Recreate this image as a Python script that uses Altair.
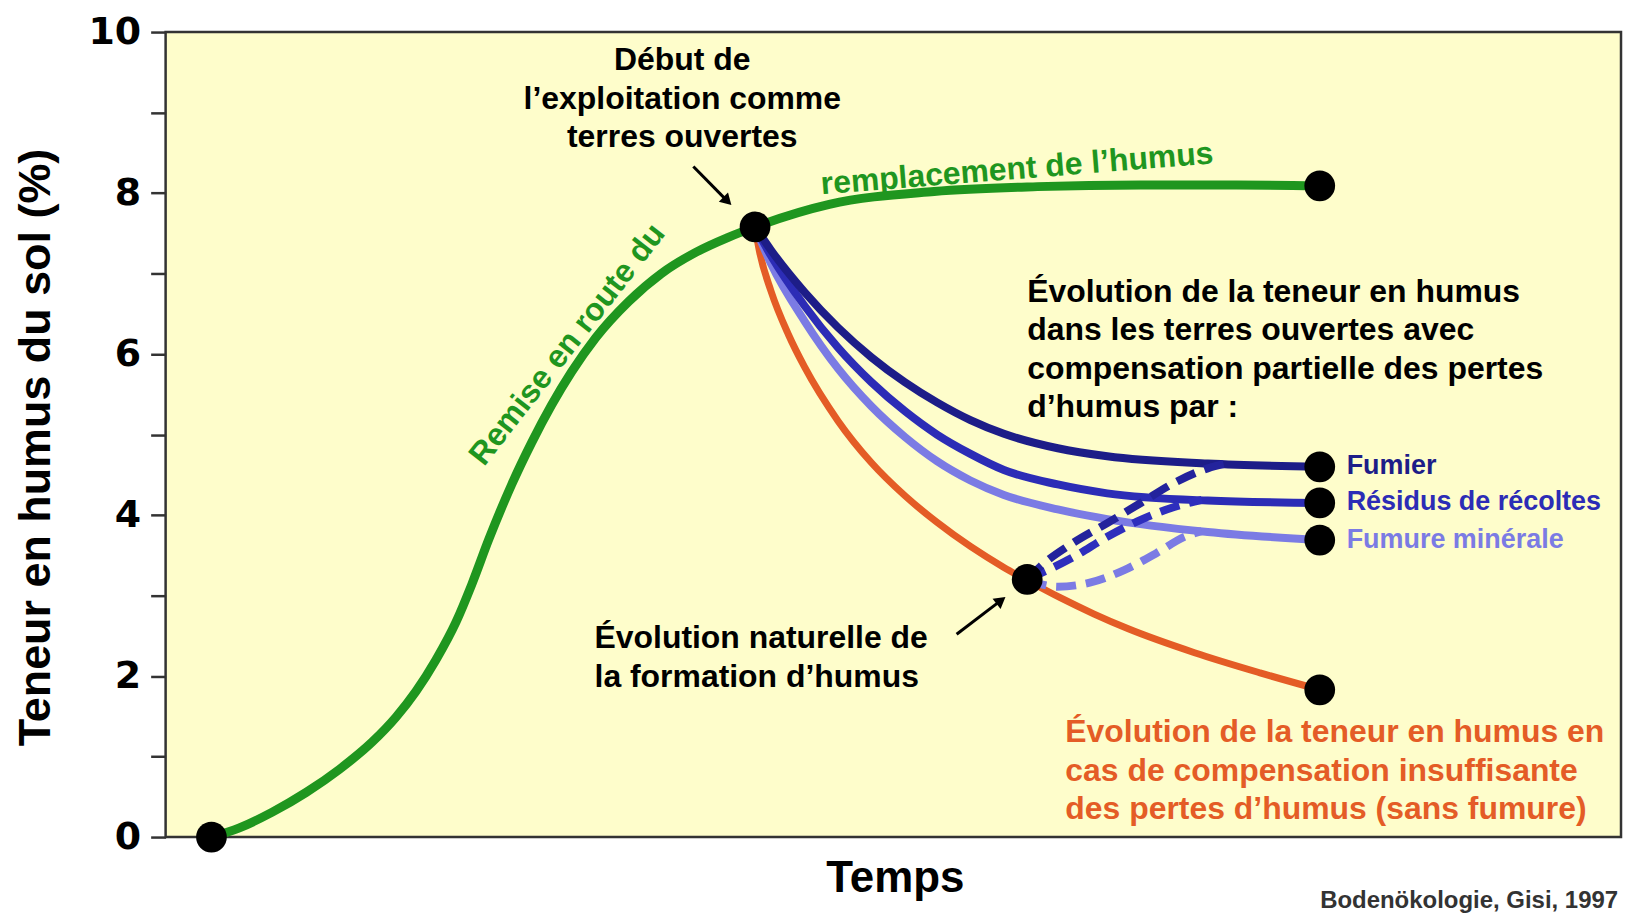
import altair as alt
import pandas as pd

# ---------------- data (time in arbitrary units 0-100, humus content in %) ----------------
green_t = [3.15, 5.07, 7.33, 9.66, 11.93, 14.19, 15.83, 17.20, 18.57, 19.95, 21.04, 22.21, 23.78, 25.15,
           26.53, 27.90, 29.54, 31.80, 34.06, 36.39, 38.66, 40.51, 45.6, 52.8, 59.9, 67.0, 73.6, 79.3]
green_v = [0.00, 0.115, 0.31, 0.555, 0.84, 1.18, 1.49, 1.81, 2.20, 2.67, 3.14, 3.70, 4.38, 4.90,
           5.37, 5.78, 6.20, 6.65, 7.00, 7.26, 7.45, 7.58, 7.86, 8.02, 8.08, 8.10, 8.10, 8.09]

orange_t = [40.5, 40.8, 41.6, 42.8, 43.9, 46.2, 48.5, 50.8, 53.0, 55.3, 57.6, 59.2, 61.5, 63.8, 66.1,
            70.7, 75.2, 79.3]
orange_v = [7.58, 7.28, 6.78, 6.24, 5.84, 5.17, 4.65, 4.24, 3.91, 3.61, 3.35, 3.19, 2.97, 2.77, 2.59,
            2.29, 2.04, 1.83]

fumier_t = [40.5, 41.6, 43.9, 46.2, 48.5, 50.8, 53.0, 55.3, 57.6, 61.3, 64.7, 71.6, 79.3]
fumier_v = [7.58, 7.29, 6.77, 6.33, 5.96, 5.65, 5.40, 5.18, 5.01, 4.83, 4.73, 4.64, 4.60]

residus_t = [40.5, 41.6, 43.9, 46.2, 48.5, 50.8, 53.0, 55.3, 57.6, 61.3, 64.7, 71.6, 79.3]
residus_v = [7.58, 7.22, 6.60, 6.08, 5.65, 5.29, 5.00, 4.76, 4.56, 4.38, 4.27, 4.18, 4.15]

minerale_t = [40.5, 41.6, 43.9, 46.2, 48.5, 50.8, 53.0, 55.3, 57.6, 61.3, 64.7, 71.6, 79.3]
minerale_v = [7.58, 7.12, 6.41, 5.82, 5.35, 4.97, 4.67, 4.43, 4.25, 4.07, 3.95, 3.79, 3.69]

dash_fumier_t = [59.2, 60.1, 62.4, 64.7, 67.0, 69.3, 71.6, 72.9]
dash_fumier_v = [3.20, 3.36, 3.66, 3.90, 4.15, 4.40, 4.58, 4.64]

dash_residus_t = [59.2, 62.4, 64.7, 67.0, 69.3, 71.2]
dash_residus_v = [3.20, 3.48, 3.73, 3.94, 4.10, 4.19]

dash_minerale_t = [59.2, 61.3, 63.5, 65.9, 68.1, 70.0, 71.2]
dash_minerale_v = [3.20, 3.11, 3.16, 3.32, 3.53, 3.73, 3.80]

dots_t = [3.15, 40.5, 79.3, 79.3, 79.3, 79.3, 79.3, 59.2]
dots_v = [0.00, 7.58, 8.09, 4.60, 4.15, 3.69, 1.83, 3.20]

y_ticks = list(range(0, 11))

# ---------------- styling ----------------
SANS = "Liberation Sans, Arial, sans-serif"
GREEN = "#1f961f"
ORANGE = "#e45c26"
C_FUM = "#1d1d88"
C_RES = "#2c2cb6"
C_MIN = "#7b7be4"

XS = alt.Scale(domain=[0, 100])
YS = alt.Scale(domain=[0, 10])

x_axis = alt.Axis(title="Temps", titleFont=SANS, titleFontSize=44, titleFontWeight="bold",
                  titleColor="black", titleX=731, titleY=42, titleAlign="center",
                  titleBaseline="middle", domain=False, ticks=False, labels=False, grid=False)
y_axis = alt.Axis(title="Teneur en humus du sol (%)", values=y_ticks,
                  labelExpr="datum.value % 2 == 0 ? format(datum.value, 'd') : ''",
                  labelOverlap=False, tickSize=15, tickWidth=2.5, tickColor="#333333",
                  domain=False, grid=False, labelFont="DejaVu Sans", labelFontSize=38,
                  labelFontWeight="bold", labelColor="black", labelPadding=10,
                  titleFont=SANS, titleFontSize=45, titleFontWeight="bold", titleColor="black",
                  titleX=-130, titleY=416, titleAngle=270, titleAlign="center", titleBaseline="middle")


def line_layer(ts, vs, color, width, dash=None, first=False):
    df = pd.DataFrame({"t": ts, "v": vs})
    kw = dict(color=color, strokeWidth=width, interpolate="monotone", strokeCap="round")
    if dash:
        kw["strokeDash"] = dash
        kw["strokeCap"] = "butt"
    if first:
        enc = dict(x=alt.X("t:Q", scale=XS, axis=x_axis), y=alt.Y("v:Q", scale=YS, axis=y_axis))
    else:
        enc = dict(x=alt.X("t:Q", scale=XS), y=alt.Y("v:Q", scale=YS))
    return alt.Chart(df).mark_line(**kw).encode(**enc)


def text_block(lines, t, v0, dv, color, size, align="left", angle=0, weight="bold"):
    df = pd.DataFrame({"txt": lines, "t": [t] * len(lines), "v": [v0 - i * dv for i in range(len(lines))]})
    return alt.Chart(df).mark_text(align=align, baseline="middle", font=SANS, fontSize=size,
                                   fontWeight=weight, color=color, angle=angle).encode(
        x=alt.X("t:Q", scale=XS), y=alt.Y("v:Q", scale=YS), text="txt:N")


def arrow(t0, v0, t1, v1, angle):
    df = pd.DataFrame({"t": [t0], "v": [v0], "t2": [t1], "v2": [v1]})
    r = alt.Chart(df).mark_rule(color="black", strokeWidth=3).encode(
        x=alt.X("t:Q", scale=XS), y=alt.Y("v:Q", scale=YS), x2="t2:Q", y2="v2:Q")
    h = alt.Chart(df).mark_point(shape="triangle-up", filled=True, color="black", size=170,
                                 opacity=1, angle=angle).encode(
        x=alt.X("t2:Q", scale=XS), y=alt.Y("v2:Q", scale=YS))
    return r + h


LH = 0.477  # line spacing in % units

layers = [
    line_layer(green_t, green_v, GREEN, 9, first=True),
    line_layer(orange_t, orange_v, ORANGE, 7),
    line_layer(minerale_t, minerale_v, C_MIN, 8),
    line_layer(residus_t, residus_v, C_RES, 8),
    line_layer(fumier_t, fumier_v, C_FUM, 8),
    line_layer(dash_minerale_t, dash_minerale_v, C_MIN, 8, dash=[20, 10]),
    line_layer(dash_residus_t, dash_residus_v, "#2e2ebd", 8, dash=[20, 10]),
    line_layer(dash_fumier_t, dash_fumier_v, "#23239c", 8, dash=[20, 10]),
    alt.Chart(pd.DataFrame({"t": dots_t, "v": dots_v})).mark_point(
        shape="circle", filled=True, color="black", opacity=1, size=950).encode(
        x=alt.X("t:Q", scale=XS), y=alt.Y("v:Q", scale=YS)),
    text_block(["Début de", "l\u2019exploitation comme", "terres ouvertes"], 35.5, 9.65, LH,
               "black", 32, align="center"),
    text_block(["Évolution de la teneur en humus", "dans les terres ouvertes avec",
                "compensation partielle des pertes", "d\u2019humus par :"], 59.2, 6.77, LH,
               "black", 32),
    text_block(["Fumier"], 81.15, 4.61, LH, C_FUM, 27),
    text_block(["Résidus de récoltes"], 81.15, 4.16, LH, C_RES, 27),
    text_block(["Fumure minérale"], 81.15, 3.69, LH, C_MIN, 27),
    text_block(["Évolution naturelle de", "la formation d\u2019humus"], 29.47, 2.47, LH,
               "black", 32),
    text_block(["Évolution de la teneur en humus en", "cas de compensation insuffisante",
                "des pertes d\u2019humus (sans fumure)"], 61.82, 1.30, LH, ORANGE, 32),
    text_block(["Remise en route du"], 27.6, 6.12, LH, GREEN, 32, align="center", angle=308),
    text_block(["remplacement de l\u2019humus"], 58.5, 8.30, LH, GREEN, 32,
               align="center", angle=355.5),
    text_block(["Bodenökologie, Gisi, 1997"], 99.8, -0.79, LH, "#333333", 24, align="right"),
    arrow(36.26, 8.33, 38.6, 7.90, 135),
    arrow(54.35, 2.52, 57.4, 2.94, 52),
]

chart = alt.layer(*layers).properties(
    width=1459, height=807,
    padding={"left": 158, "top": 23, "right": 2, "bottom": 78},
    autosize=alt.AutoSizeParams(type="none"),
    background="white",
).configure_view(fill="#fefdcb", stroke="#333333", strokeWidth=2.5)

chart.save("out.html", embed_options={"renderer": "svg", "actions": False})
